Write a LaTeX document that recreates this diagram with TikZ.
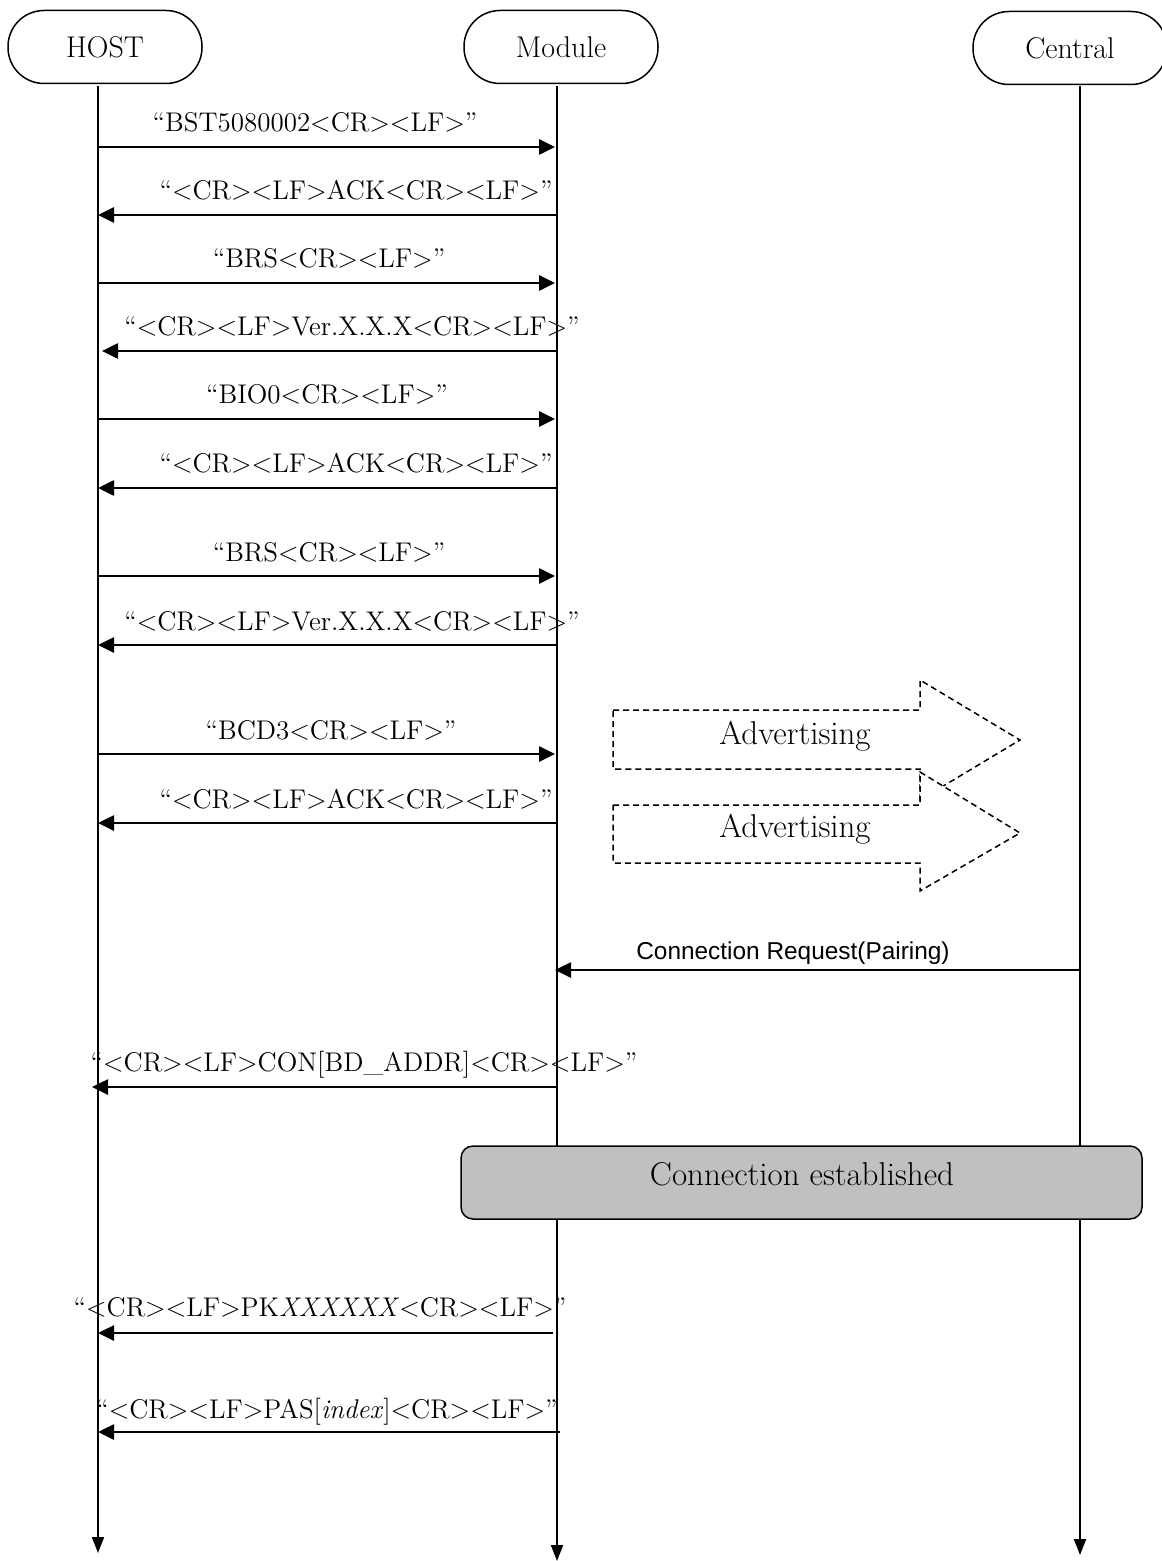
\documentclass[tikz,border=0pt]{standalone}
\usepackage{fontspec}
\newfontfamily\arialfont{Liberation Sans}
\usetikzlibrary{arrows.meta}
\begin{document}
\begin{tikzpicture}[x=0.5pt,y=-0.5pt,
  hdr/.style={draw, line width=0.75pt, rounded corners=18pt, minimum width=97pt, minimum height=36.5pt, inner sep=0pt, font=\fontsize{15}{17}\selectfont},
  life/.style={line width=1pt, -{Triangle[length=8pt,width=6pt]}},
  msg/.style={line width=1.3pt, -{Triangle[length=8pt,width=7.5pt]}},
  lbl/.style={inner sep=0pt, anchor=base, font=\fontsize{13.5}{15}\selectfont},
  sanslbl/.style={inner sep=0pt, anchor=base, font=\arialfont\fontsize{12.2}{14}\selectfont},
  advarrow/.style={draw, dash pattern=on 3pt off 2pt, line width=0.75pt, fill=white},
  advtext/.style={inner sep=0pt, anchor=base, font=\fontsize{16.5}{18}\selectfont},
  estbox/.style={draw, line width=0.75pt, rounded corners=6pt, fill={rgb,255:red,192;green,192;blue,192}, minimum width=340.5pt, minimum height=36.5pt, inner sep=0pt},
  esttext/.style={inner sep=0pt, anchor=base, font=\fontsize{16.5}{18}\selectfont}]
\useasboundingbox (0,0) rectangle (1161,1561);

% headers
\node[hdr] (host) at (105,47) {HOST};
\node[hdr] (module) at (561,47) {Module};
\node[hdr] (central) at (1070,48) {Central};

% lifelines
\coordinate (hTop) at (98,86);   \coordinate (hEnd) at (98,1553);
\coordinate (mTop) at (557,86);  \coordinate (mEnd) at (557,1561);
\coordinate (cTop) at (1080,86); \coordinate (cEnd) at (1080,1555);
\draw[life] (hTop) -- (hEnd);
\draw[life] (mTop) -- (mEnd);
\draw[life] (cTop) -- (cEnd);

% message end points
\coordinate (h1) at (98,147);  \coordinate (m1) at (555,147);
\coordinate (m2) at (557,215); \coordinate (h2) at (98,215);
\coordinate (h3) at (98,283);  \coordinate (m3) at (555,283);
\coordinate (m4) at (557,351); \coordinate (h4) at (102,351);
\coordinate (h5) at (98,419);  \coordinate (m5) at (555,419);
\coordinate (m6) at (557,488); \coordinate (h6) at (98,488);
\coordinate (h7) at (98,576);  \coordinate (m7) at (555,576);
\coordinate (m8) at (557,645); \coordinate (h8) at (98,645);
\coordinate (h9) at (98,754);  \coordinate (m9) at (555,754);
\coordinate (m10) at (557,823); \coordinate (h10) at (98,823);
\coordinate (c11) at (1080,970); \coordinate (m11) at (555,970);
\coordinate (m12) at (557,1087); \coordinate (h12) at (92,1087);
\coordinate (m14) at (553,1333); \coordinate (h14) at (98,1333);
\coordinate (m15) at (560,1432); \coordinate (h15) at (98,1432);

\draw[msg] (h1) -- (m1);
\draw[msg] (m2) -- (h2);
\draw[msg] (h3) -- (m3);
\draw[msg] (m4) -- (h4);
\draw[msg] (h5) -- (m5);
\draw[msg] (m6) -- (h6);
\draw[msg] (h7) -- (m7);
\draw[msg] (m8) -- (h8);
\draw[msg] (h9) -- (m9);
\draw[msg] (m10) -- (h10);
\draw[msg] (c11) -- (m11);
\draw[msg] (m12) -- (h12);
\draw[msg] (m14) -- (h14);
\draw[msg] (m15) -- (h15);

% labels
\node[lbl] (t1) at (315,132) {“BST5080002<CR><LF>”};
\node[lbl] (t2) at (356,200) {“<CR><LF>ACK<CR><LF>”};
\node[lbl] (t3) at (329,268) {“BRS<CR><LF>”};
\node[lbl] (t4) at (352,336) {“<CR><LF>Ver.X.X.X<CR><LF>”};
\node[lbl] (t5) at (327,404) {“BIO0<CR><LF>”};
\node[lbl] (t6) at (356,473) {“<CR><LF>ACK<CR><LF>”};
\node[lbl] (t7) at (329,561) {“BRS<CR><LF>”};
\node[lbl] (t8) at (352,630) {“<CR><LF>Ver.X.X.X<CR><LF>”};
\node[lbl] (t9) at (331,739) {“BCD3<CR><LF>”};
\node[lbl] (t10) at (356,808) {“<CR><LF>ACK<CR><LF>”};
\node[sanslbl] (t11) at (793,959) {Connection Request(Pairing)};
\node[lbl] (t12) at (364,1071) {“<CR><LF>CON[BD\_ADDR]<CR><LF>”};
\node[lbl] (t14) at (320,1316) {“<CR><LF>PK\textit{XXXXXX}<CR><LF>”};
\node[lbl] (t15) at (327,1418) {“<CR><LF>PAS[\textit{index}]<CR><LF>”};

% advertising arrows
\draw[advarrow] (613,710) -- (920,710) -- (920,680) -- (1020,740) -- (920,800) -- (920,769) -- (613,769) -- cycle;
\node[advtext] (adv1) at (795,744) {Advertising};
\draw[advarrow] (613,805) -- (920,805) -- (920,772) -- (1020,833) -- (920,891) -- (920,863) -- (613,863) -- cycle;
\node[advtext] (adv2) at (795,837) {Advertising};

% connection established
\node[estbox] (est) at (801.5,1182.5) {};
\node[esttext] (estlbl) at (802,1185) {Connection established};
\end{tikzpicture}
\end{document}
